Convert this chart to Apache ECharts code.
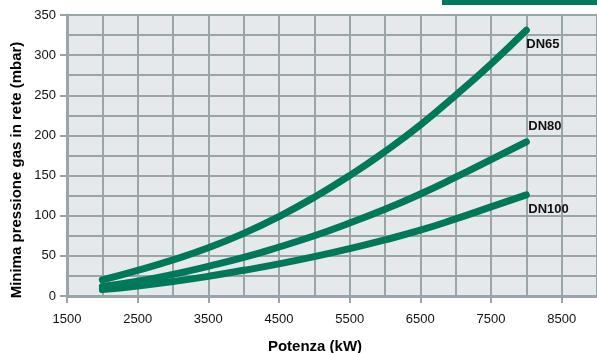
<!DOCTYPE html>
<html>
<head>
<meta charset="utf-8">
<script src="https://cdn.jsdelivr.net/npm/echarts@6/dist/echarts.min.js"></script>
<style>
html,body{margin:0;padding:0;background:#fff;}
#c{width:597px;height:353px;}
</style>
</head>
<body>
<div id="c"></div>
<script>
// Potenza (kW)
const potenza = [2000, 2500, 3000, 3500, 4000, 4500, 5000, 5500, 6000, 6500, 7000, 7500, 8000];
// Minima pressione gas in rete (mbar)
const dn65  = [20, 32, 45, 60, 78, 99, 123, 150, 180, 213, 250, 289, 331];
const dn80  = [12, 18.5, 27, 37, 48, 61, 75, 91, 108, 127, 148, 170, 192];
const dn100 = [8, 12.5, 18, 24.5, 32, 40, 49, 59, 70, 82, 96, 111, 126];
const seriesNames = ['DN65', 'DN80', 'DN100'];
const xTitle = 'Potenza (kW)';
const yTitle = 'Minima pressione gas in rete (mbar)';

const GREEN = '#00795a';
const GRID = '#9aa5aa';
const FONT = '"Liberation Sans", Arial, Helvetica, sans-serif';

const chart = echarts.init(document.getElementById('c'), null, {renderer: 'canvas'});

function mk(name, vals, offset) {
  return {
    type: 'line',
    name: name,
    xAxisIndex: 0,
    yAxisIndex: 0,
    data: potenza.map((p, i) => [p, vals[i]]),
    smooth: true,
    showSymbol: false,
    symbol: 'none',
    lineStyle: {color: GREEN, width: 7, cap: 'round', join: 'round'},
    endLabel: {
      show: true,
      formatter: '{a}',
      fontFamily: FONT,
      fontSize: 13,
      fontWeight: 'bold',
      color: '#111',
      offset: offset,
      distance: 2
    },
    z: 5
  };
}

chart.setOption({
  animation: false,
  backgroundColor: '#fff',
  grid: {left: 67, right: 0, top: 15, bottom: 57, show: true, backgroundColor: '#e6e9ec', borderWidth: 0},
  xAxis: [
    {
      type: 'value', min: 1500, max: 9000, interval: 500,
      axisLine: {show: false}, axisTick: {show: false}, axisLabel: {show: false},
      splitLine: {show: true, lineStyle: {color: GRID, width: 2}}
    },
    {
      type: 'value', min: 1500, max: 9000, interval: 1000, position: 'bottom',
      axisLine: {show: true, onZero: false, lineStyle: {color: GRID, width: 3}},
      axisTick: {show: true, length: 7, lineStyle: {color: GRID, width: 2}},
      axisLabel: {show: true, margin: 17, showMaxLabel: false, fontFamily: FONT, fontSize: 13, color: '#111',
                  formatter: v => String(v)},
      splitLine: {show: false}
    }
  ],
  yAxis: [
    {
      type: 'value', min: 0, max: 350, interval: 25,
      axisLine: {show: false}, axisTick: {show: false}, axisLabel: {show: false},
      splitLine: {show: true, lineStyle: {color: GRID, width: 2}}
    },
    {
      type: 'value', min: 0, max: 350, interval: 50, position: 'left',
      axisLine: {show: true, onZero: false, lineStyle: {color: GRID, width: 3}},
      axisTick: {show: true, length: 7, lineStyle: {color: GRID, width: 2}},
      axisLabel: {show: true, margin: 11, fontFamily: FONT, fontSize: 13, color: '#111',
                  formatter: v => String(v)},
      splitLine: {show: false}
    }
  ],
  series: [
    mk(seriesNames[0], dn65, [-2, 14]),
    mk(seriesNames[1], dn80, [0, -15]),
    mk(seriesNames[2], dn100, [0, 15])
  ],
  graphic: [
    {type: 'rect', shape: {x: 442, y: 0, width: 155, height: 5}, style: {fill: GREEN}},
    {type: 'text', x: 17, y: 170, rotation: Math.PI / 2,
     style: {text: yTitle, fontFamily: FONT, fontSize: 15, fontWeight: 'bold', fill: '#000', textAlign: 'center', textVerticalAlign: 'middle'}},
    {type: 'text', x: 315, y: 347,
     style: {text: xTitle, fontFamily: FONT, fontSize: 15, fontWeight: 'bold', fill: '#000', textAlign: 'center', textVerticalAlign: 'middle'}}
  ]
});
</script>
</body>
</html>
